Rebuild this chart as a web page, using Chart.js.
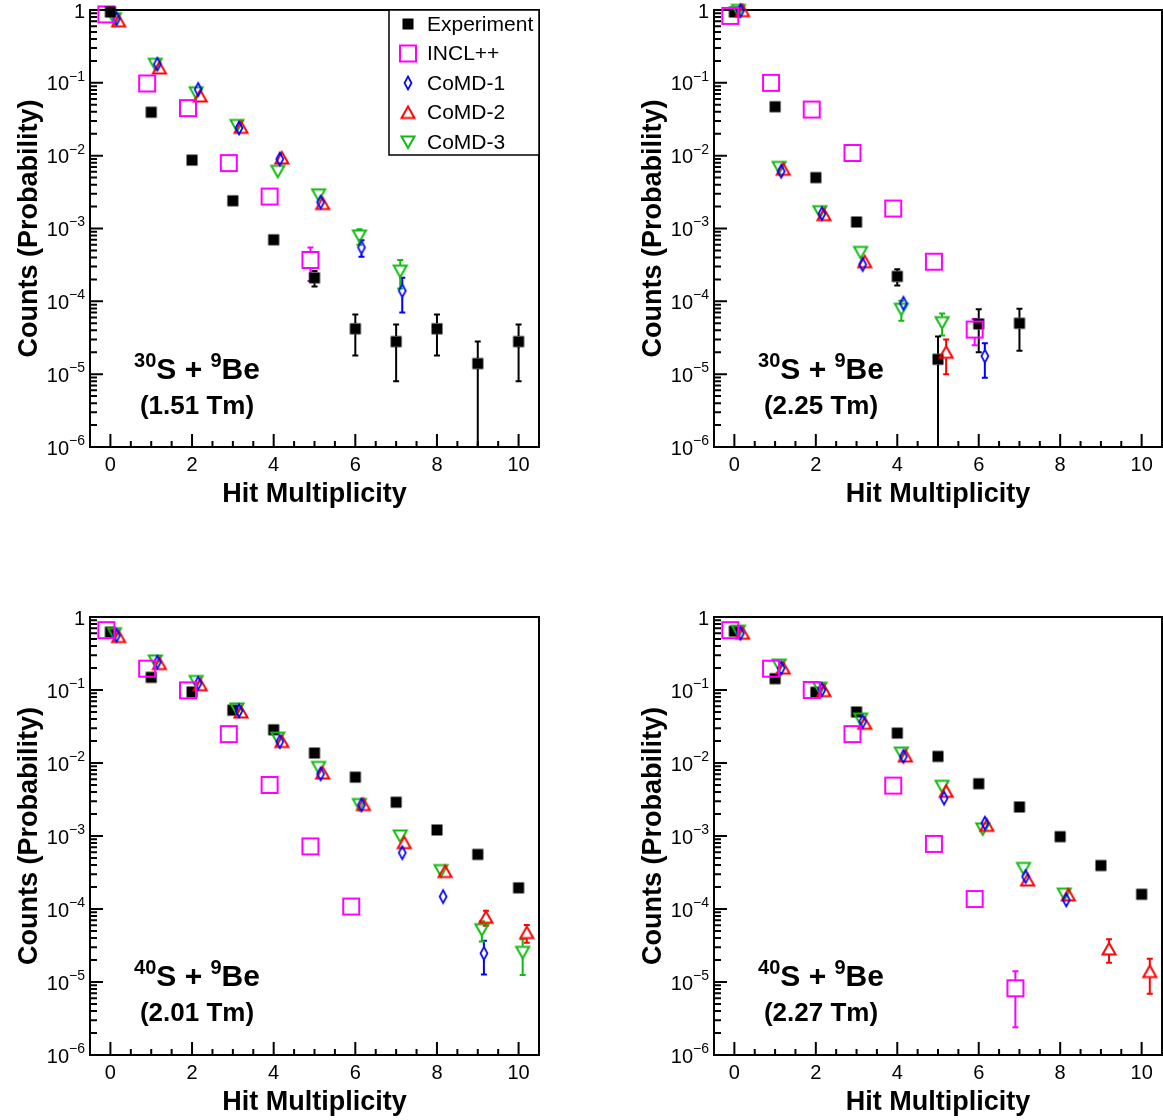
<!DOCTYPE html>
<html>
<head>
<meta charset="utf-8">
<title>Hit Multiplicity</title>
<script src="https://cdn.jsdelivr.net/npm/chart.js"></script>
<style>
    body { margin: 0; background: #fff; }
    #wrap { position: relative; width: 1163px; height: 1120px; overflow: hidden; }
    #wrap canvas { position: absolute; }
</style>
</head>
<body>
<div id="wrap">
    <canvas id="p1" width="600" height="560" style="left:0;top:0"></canvas>
    <canvas id="p2" width="563" height="560" style="left:600px;top:0"></canvas>
    <canvas id="p3" width="600" height="560" style="left:0;top:560px"></canvas>
    <canvas id="p4" width="563" height="560" style="left:600px;top:560px"></canvas>
</div>

<script>
    const multiplicity = [0, 1, 2, 3, 4, 5, 6, 7, 8, 9, 10];
    const seriesNames = ['Experiment', 'INCL++', 'CoMD-1', 'CoMD-2', 'CoMD-3'];
    // small offsets along x so the models don't sit on top of each other
    const xShift = [0, -0.1, 0.15, 0.2, 0.1];
    const xTickLabels = ['0', '2', '4', '6', '8', '10'];
    const yTickExponents = [0, -1, -2, -3, -4, -5, -6];

    // 30S + 9Be, 1.51 Tm
    const expA = [0.94, 0.0395, 0.0087, 0.0024, 7.0e-4, 2.1e-4, 4.2e-5, 2.8e-5, 4.2e-5, 1.4e-5, 2.8e-5];
    const expErrA = [0, 0, 0, 0, 0, 5e-5, 2.4e-5, 2.0e-5, 2.4e-5, 1.4e-5, 2.0e-5];
    const inclA = [0.87, 0.098, 0.045, 0.0079, 0.00275, 3.7e-4];
    const inclErrA = [0, 0, 0, 0, 0, 1.8e-4];
    const comd1A = [0.76, 0.18, 0.081, 0.024, 0.0090, 0.0023, 5.5e-4, 1.4e-4];
    const comd1ErrA = [0, 0, 0, 0, 0, 0, 1.4e-4, 7e-5];
    const comd2A = [0.71, 0.16, 0.066, 0.0245, 0.0093, 0.0022];
    const comd2ErrA = [];
    const comd3A = [0.76, 0.18, 0.073, 0.026, 0.0061, 0.0029, 7.9e-4, 2.6e-4];
    const comd3ErrA = [0, 0, 0, 0, 0, 0, 1.9e-4, 1.1e-4];

    // 30S + 9Be, 2.25 Tm
    const expB = [0.94, 0.047, 0.0050, 0.00123, 2.2e-4, 1.6e-5, 4.9e-5, 5.0e-5];
    const expErrB = [0, 0, 0, 0, 5.5e-5, 1.7e-5, 2.9e-5, 2.9e-5];
    const inclB = [0.83, 0.10, 0.043, 0.0109, 0.00188, 3.5e-4, 4.1e-5];
    const inclErrB = [0, 0, 0, 0, 0, 0, 1.6e-5];
    const comd1B = [0.98, 0.0061, 0.0016, 3.2e-4, 9.4e-5, null, 1.77e-5];
    const comd1ErrB = [0, 0, 0, 0, 1.5e-5, 0, 8.8e-6];
    const comd2B = [0.98, 0.0065, 0.00155, 3.5e-4, null, 2.0e-5];
    const comd2ErrB = [0, 0, 0, 0, 0, 1.0e-5];
    const comd3B = [0.99, 0.0069, 0.0017, 4.7e-4, 7.8e-5, 5.1e-5];
    const comd3ErrB = [0, 0, 0, 0, 2.4e-5, 1.7e-5];

    // 40S + 9Be, 2.01 Tm
    const expC = [0.62, 0.149, 0.094, 0.053, 0.0285, 0.0137, 0.0064, 0.0029, 0.00121, 5.6e-4, 1.95e-4];
    const expErrC = [];
    const inclC = [0.66, 0.196, 0.099, 0.0249, 0.0050, 7.2e-4, 1.08e-4];
    const inclErrC = [];
    const comd1C = [0.56, 0.24, 0.124, 0.052, 0.0197, 0.0071, 0.00267, 5.9e-4, 1.48e-4, 2.47e-5];
    const comd1ErrC = [0, 0, 0, 0, 0, 0, 0, 0, 2.5e-5, 1.2e-5];
    const comd2C = [0.54, 0.23, 0.118, 0.050, 0.0197, 0.0073, 0.0027, 8.1e-4, 3.26e-4, 7.7e-5, 4.75e-5];
    const comd2ErrC = [0, 0, 0, 0, 0, 0, 0, 0, 0, 1.8e-5, 1.3e-5];
    const comd3C = [0.59, 0.25, 0.131, 0.055, 0.022, 0.0087, 0.0027, 0.0010, 3.36e-4, 5.2e-5, 2.55e-5];
    const comd3ErrC = [0, 0, 0, 0, 0, 0, 0, 0, 0, 1.6e-5, 1.3e-5];

    // 40S + 9Be, 2.27 Tm
    const expD = [0.64, 0.143, 0.093, 0.050, 0.0257, 0.0123, 0.0052, 0.0025, 9.8e-4, 3.94e-4, 1.59e-4];
    const expErrD = [];
    const inclD = [0.66, 0.196, 0.10, 0.0249, 0.0049, 7.8e-4, 1.37e-4, 8.2e-6];
    const inclErrD = [0, 0, 0, 0, 0, 0, 0, 5.8e-6];
    const comd1D = [0.60, 0.20, 0.101, 0.037, 0.0123, 0.0033, 0.0015, 2.78e-4, 1.33e-4];
    const comd1ErrD = [0, 0, 0, 0, 0, 0, 0, 0, 2e-5];
    const comd2D = [0.60, 0.20, 0.098, 0.035, 0.0125, 0.0041, 0.0014, 2.5e-4, 1.56e-4, 2.84e-5, 1.39e-5];
    const comd2ErrD = [0, 0, 0, 0, 0, 0, 0, 0, 0, 1.0e-5, 7e-6];
    const comd3D = [0.64, 0.22, 0.106, 0.040, 0.0137, 0.0048, 0.00125, 3.6e-4, 1.6e-4];
    const comd3ErrD = [];

    const panels = [
        { id: 'p1', beam: '30', brho: '1.51', legend: true, pad: { left: 90, right: 61, top: 10, bottom: 113 },
          values: [expA, inclA, comd1A, comd2A, comd3A], errors: [expErrA, inclErrA, comd1ErrA, comd2ErrA, comd3ErrA] },
        { id: 'p2', beam: '30', brho: '2.25', legend: false, pad: { left: 114, right: 1, top: 10, bottom: 113 },
          values: [expB, inclB, comd1B, comd2B, comd3B], errors: [expErrB, inclErrB, comd1ErrB, comd2ErrB, comd3ErrB] },
        { id: 'p3', beam: '40', brho: '2.01', legend: false, pad: { left: 90, right: 61, top: 57, bottom: 65 },
          values: [expC, inclC, comd1C, comd2C, comd3C], errors: [expErrC, inclErrC, comd1ErrC, comd2ErrC, comd3ErrC] },
        { id: 'p4', beam: '40', brho: '2.27', legend: false, pad: { left: 114, right: 1, top: 57, bottom: 65 },
          values: [expD, inclD, comd1D, comd2D, comd3D], errors: [expErrD, inclErrD, comd1ErrD, comd2ErrD, comd3ErrD] }
    ];

    const FONT = "'Liberation Sans', Arial, Helvetica, sans-serif";
    const colors = ['#000000', '#ff00ff', '#0000ff', '#ff0000', '#11bb11'];
    const shapes = ['fullSquare', 'openSquare', 'diamond', 'triUp', 'triDown'];
    // half height of each marker, used to leave a gap in the error bar
    const halfSize = [5.5, 8, 6.5, 6, 6];

    function makeMarker(kind, color) {
        const c = document.createElement('canvas');
        c.width = 22; c.height = 22;
        const g = c.getContext('2d');
        const m = 11;
        g.strokeStyle = color;
        g.fillStyle = color;
        g.lineWidth = 2;
        g.lineJoin = 'miter';
        g.beginPath();
        if (kind === 'fullSquare') {
            g.fillRect(m - 5.5, m - 5.5, 11, 11);
            return c;
        }
        if (kind === 'openSquare') {
            g.strokeRect(m - 8, m - 8, 16, 16);
            return c;
        }
        if (kind === 'diamond') {
            g.lineWidth = 1.7;
            g.moveTo(m, m - 6.5); g.lineTo(m + 3.5, m); g.lineTo(m, m + 6.5); g.lineTo(m - 3.5, m);
        } else if (kind === 'triUp') {
            g.moveTo(m, m - 6); g.lineTo(m + 6.5, m + 5.5); g.lineTo(m - 6.5, m + 5.5);
        } else {
            g.moveTo(m, m + 6); g.lineTo(m + 6.5, m - 5.5); g.lineTo(m - 6.5, m - 5.5);
        }
        g.closePath();
        g.stroke();
        return c;
    }
    const markers = shapes.map((s, i) => makeMarker(s, colors[i]));

    // draws "10" with a raised exponent, right aligned at x
    function drawPower(ctx, x, y, exp) {
        ctx.textAlign = 'right';
        ctx.textBaseline = 'middle';
        if (exp === 0) {
            ctx.font = '20px ' + FONT;
            ctx.fillText('1', x, y + 2);
            return;
        }
        const sup = '\u2212' + (-exp);
        ctx.font = '14px ' + FONT;
        const supW = ctx.measureText(sup).width;
        ctx.fillText(sup, x, y - 6);
        ctx.font = '20px ' + FONT;
        ctx.fillText('10', x - supW, y + 2);
    }

    const frameAndTicks = {
        id: 'frameAndTicks',
        beforeDatasetsDraw(chart) {
            const ctx = chart.ctx;
            const a = chart.chartArea;
            const xs = chart.scales.x, ys = chart.scales.y;
            ctx.save();
            ctx.strokeStyle = '#000';
            ctx.lineWidth = 2;
            ctx.strokeRect(a.left, a.top, a.right - a.left, a.bottom - a.top);

            // x ticks: long every 2, short every 0.5
            ctx.beginPath();
            for (let v = 0; v <= 10.001; v += 0.5) {
                const px = xs.getPixelForValue(v);
                const len = (Math.round(v * 2) % 4 === 0) ? 13 : 6;
                ctx.moveTo(px, a.bottom);
                ctx.lineTo(px, a.bottom - len);
            }
            // y ticks: decades and 2..9
            yTickExponents.forEach(e => {
                const py = ys.getPixelForValue(Math.pow(10, e));
                ctx.moveTo(a.left, py);
                ctx.lineTo(a.left + 13, py);
                if (e < 0) {
                    for (let k = 2; k <= 9; k++) {
                        const pk = ys.getPixelForValue(k * Math.pow(10, e));
                        ctx.moveTo(a.left, pk);
                        ctx.lineTo(a.left + 7, pk);
                    }
                }
            });
            ctx.stroke();

            // tick labels
            ctx.fillStyle = '#000';
            ctx.font = '20px ' + FONT;
            ctx.textAlign = 'center';
            ctx.textBaseline = 'top';
            xTickLabels.forEach(t => {
                ctx.fillText(t, xs.getPixelForValue(Number(t)), a.bottom + 8);
            });
            yTickExponents.forEach(e => {
                drawPower(ctx, a.left - 5, ys.getPixelForValue(Math.pow(10, e)), e);
            });

            // axis titles
            ctx.font = 'bold 27px ' + FONT;
            ctx.textAlign = 'center';
            ctx.textBaseline = 'middle';
            ctx.fillText('Hit Multiplicity', (a.left + a.right) / 2, a.bottom + 48);
            ctx.save();
            ctx.translate(a.left - 60, (a.top + a.bottom) / 2);
            ctx.rotate(-Math.PI / 2);
            ctx.fillText('Counts (Probability)', 0, 0);
            ctx.restore();
            ctx.restore();
        }
    };

    const errorBars = {
        id: 'errorBars',
        beforeDatasetsDraw(chart) {
            const ctx = chart.ctx;
            const a = chart.chartArea;
            const xs = chart.scales.x, ys = chart.scales.y;
            ctx.save();
            ctx.lineWidth = 2;
            chart.data.datasets.forEach(ds => {
                ctx.strokeStyle = ds.barColor;
                ds.data.forEach(p => {
                    if (!p.err) return;
                    const px = xs.getPixelForValue(p.x);
                    const py = ys.getPixelForValue(p.y);
                    const top = ys.getPixelForValue(p.y + p.err);
                    const low = p.y - p.err;
                    const bot = low > 0 ? Math.min(ys.getPixelForValue(low), a.bottom) : a.bottom;
                    ctx.beginPath();
                    if (top < py - ds.gap) {
                        ctx.moveTo(px, py - ds.gap);
                        ctx.lineTo(px, top);
                        ctx.moveTo(px - 3, top);
                        ctx.lineTo(px + 3, top);
                    }
                    if (bot > py + ds.gap) {
                        ctx.moveTo(px, py + ds.gap);
                        ctx.lineTo(px, bot);
                        if (low > 0 && bot < a.bottom) {
                            ctx.moveTo(px - 3, bot);
                            ctx.lineTo(px + 3, bot);
                        }
                    }
                    ctx.stroke();
                });
            });
            ctx.restore();
        }
    };

    const captions = {
        id: 'captions',
        afterDatasetsDraw(chart) {
            const ctx = chart.ctx;
            const a = chart.chartArea;
            const info = chart.options.plugins.captions;
            ctx.save();
            ctx.fillStyle = '#000';
            ctx.textBaseline = 'alphabetic';
            ctx.textAlign = 'left';

            // reaction label with superscripted mass numbers
            const parts = [[info.beam, true], ['S + ', false], ['9', true], ['Be', false]];
            const bigFont = 'bold 30px ' + FONT, supFont = 'bold 20px ' + FONT;
            let total = 0;
            parts.forEach(([t, s]) => { ctx.font = s ? supFont : bigFont; total += ctx.measureText(t).width; });
            let x = a.left + 107 - total / 2;
            const base = a.top + 369;
            parts.forEach(([t, s]) => {
                ctx.font = s ? supFont : bigFont;
                ctx.fillText(t, x, s ? base - 12 : base);
                x += ctx.measureText(t).width;
            });
            ctx.font = 'bold 26px ' + FONT;
            ctx.textAlign = 'center';
            ctx.fillText('(' + info.brho + ' Tm)', a.left + 107, a.top + 404);

            if (info.legend) {
                const left = a.right - 150, top = a.top, bottom = a.top + 145;
                ctx.fillStyle = '#fff';
                ctx.fillRect(left, top, a.right - left, bottom - top);
                ctx.strokeStyle = '#000';
                ctx.lineWidth = 1.5;
                ctx.strokeRect(left, top, a.right - left, bottom - top);
                ctx.fillStyle = '#000';
                ctx.font = '21px ' + FONT;
                ctx.textAlign = 'left';
                ctx.textBaseline = 'middle';
                chart.data.datasets.forEach((ds, i) => {
                    const y = top + 14 + i * 29.5;
                    const m = ds.pointStyle;
                    ctx.drawImage(m, left + 19 - m.width / 2, y - m.height / 2);
                    ctx.fillText(ds.label, left + 38, y + 1);
                });
            }
            ctx.restore();
        }
    };

    panels.forEach(p => {
        const datasets = seriesNames.map((name, s) => {
            const pts = [];
            p.values[s].forEach((v, i) => {
                if (v === null || v === undefined) return;
                pts.push({ x: multiplicity[i] + xShift[s], y: v, err: p.errors[s][i] || 0 });
            });
            return {
                label: name,
                data: pts,
                pointStyle: markers[s],
                pointRadius: 8,
                showLine: false,
                clip: false,
                barColor: colors[s],
                gap: halfSize[s]
            };
        });
        // draw order: experiment last so it sits on top
        const ordered = datasets.slice(1).concat(datasets[0]);

        new Chart(document.getElementById(p.id), {
            type: 'scatter',
            data: { datasets: p.legend ? datasets : ordered },
            options: {
                responsive: false,
                animation: false,
                events: [],
                layout: { padding: p.pad, autoPadding: false },
                scales: {
                    x: { type: 'linear', min: -0.5, max: 10.5, display: false },
                    y: { type: 'logarithmic', min: 1e-6, max: 1, display: false }
                },
                plugins: {
                    legend: { display: false },
                    tooltip: { enabled: false },
                    captions: { beam: p.beam, brho: p.brho, legend: p.legend }
                }
            },
            plugins: [frameAndTicks, errorBars, captions]
        });
    });
</script>
</body>
</html>
